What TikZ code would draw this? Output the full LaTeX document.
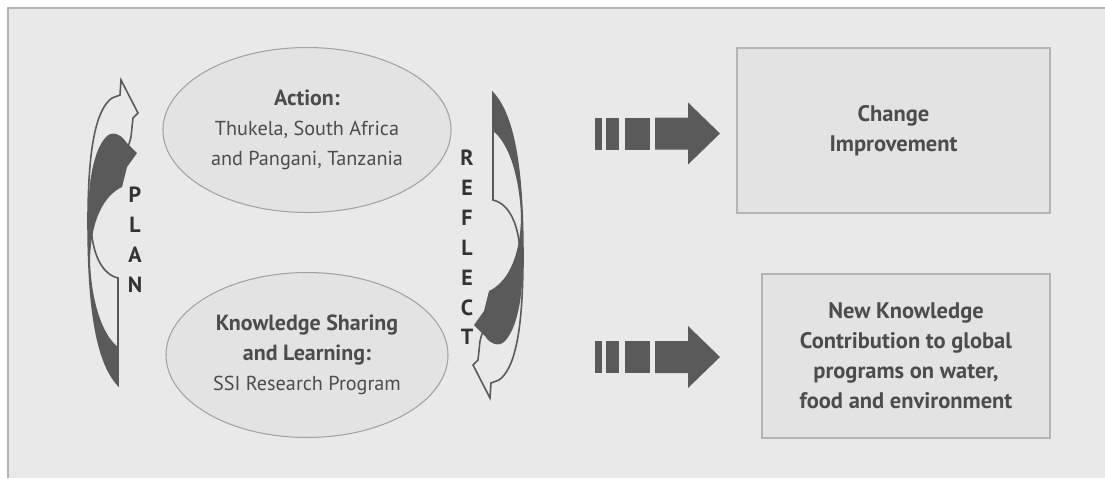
\documentclass[tikz,border=0pt]{standalone}
\usepackage{fontspec}
\setmainfont{PT Sans}
\usetikzlibrary{shapes.geometric}

\definecolor{panel}{HTML}{E9E9E9}
\definecolor{bubble}{HTML}{E3E3E3}
\definecolor{rim}{HTML}{A2A2A2}
\definecolor{boxrim}{HTML}{B4B4B4}
\definecolor{ink}{HTML}{5A5A5A}
\definecolor{txt}{HTML}{4C4C4C}
\definecolor{dark}{HTML}{333333}

% two interlocking curved arrows (open one behind, solid one in front)
\newcommand{\CycleArrow}{
    \filldraw[fill=panel, draw=ink, line width=0.9pt] (118,385) -- (118,278)
        .. controls (101,274) and (92,252) .. (91,225)
        .. controls (95,185) and (125,165) .. (131,137) -- (133,118) -- (138,113) -- (121,80)
        -- (120,95) -- (112,98) .. controls (98,108) and (88,140) .. (88,220)
        .. controls (88,300) and (95,360) .. (118,385) -- cycle;
    \fill[ink] (118,385) -- (118,347)
        .. controls (102,335) and (91,300) .. (90,260)
        .. controls (91,218) and (105,195) .. (122,187) -- (127,167) -- (137,153) -- (126,142)
        .. controls (122,135) and (112,130) .. (106,137)
        .. controls (94,150) and (88,180) .. (88,220)
        .. controls (88,300) and (95,360) .. (118,385) -- cycle;
}

% striped block arrow, centred on the x axis
\newcommand{\FatArrow}{
    \fill[ink] (595,-16) rectangle (602,16);
    \fill[ink] (606,-16) rectangle (619,16);
    \fill[ink] (625,-16) rectangle (650,16);
    \fill[ink] (655,-16) -- (688,-16) -- (688,-31) -- (720,0) -- (688,31) -- (688,16) -- (655,16) -- cycle;
}

\newcommand{\heading}[1]{{\bfseries\fontsize{12.5}{17}\selectfont #1}}

\tikzset{
    oval/.style={ellipse, draw=rim, fill=bubble, line width=0.6pt,
        minimum width=5.6cm, minimum height=3.3cm, align=center,
        text=txt, font=\fontsize{11.5}{17}\selectfont},
    outcome/.style={rectangle, draw=boxrim, fill=bubble, line width=1.1pt,
        minimum height=3.29cm, align=center,
        text=txt, font=\bfseries\fontsize{12.8}{17}\selectfont},
    spelled/.style={align=center, text=dark, font=\bfseries\fontsize{12.5}{17}\selectfont}
}

\begin{document}
\begin{tikzpicture}[x=0.02cm, y=-0.02cm]
    \useasboundingbox (0,0) rectangle (1105,478);
    \fill[white] (0,0) rectangle (1105,478);
    \fill[panel] (8,8) rectangle (1105,478);
    \draw[boxrim, line width=1.3pt] (8,478) -- (8,8) -- (1105,8);

    \node[oval] (action) at (307,130) {\heading{Action:}\\Thukela, South Africa\\and Pangani, Tanzania};
    \node[oval] (sharing) at (307,355) {\heading{Knowledge Sharing}\\\heading{and Learning:}\\SSI Research Program};

    \node[outcome, minimum width=6.26cm] (change) at (893.5,130.5) {Change\\Improvement};
    \node[outcome, minimum width=5.76cm] (newknow) at (906,356) {New Knowledge\\Contribution to global\\programs on water,\\food and environment};

    \CycleArrow
    \begin{scope}[rotate around={180:(305.5,239)}]
        \CycleArrow
    \end{scope}
    \node[spelled] (plan) at (135,240) {P\\L\\A\\N};
    \node[spelled] (reflect) at (467,247.5) {R\\E\\F\\L\\E\\C\\T};

    \begin{scope}[shift={(0,133.5)}]
        \FatArrow
    \end{scope}
    \begin{scope}[shift={(0,357)}]
        \FatArrow
    \end{scope}
\end{tikzpicture}
\end{document}
